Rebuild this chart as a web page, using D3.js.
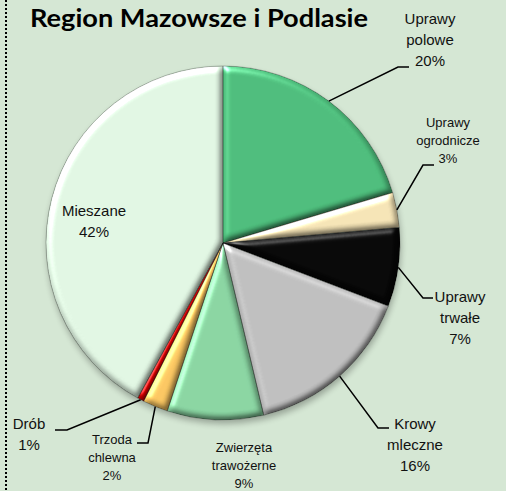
<!DOCTYPE html>
<html>
<head>
<meta charset="utf-8">
<script src="https://cdn.jsdelivr.net/npm/d3@7"></script>
<style>
  html, body { margin: 0; padding: 0; background: #d5e7d4; }
  #chart { width: 506px; height: 491px; }
  .lbl { font-family: "Liberation Sans", Arial, sans-serif; fill: #111; }
  .title { font-family: Lato, "Open Sans", sans-serif; font-weight: bold; fill: #000; }
</style>
</head>
<body>
<div id="chart"></div>
<script>
// chart data
var categories = ["Uprawy polowe", "Uprawy ogrodnicze", "Uprawy trwałe", "Krowy mleczne",
                  "Zwierzęta trawożerne", "Trzoda chlewna", "Drób", "Mieszane"];
var labelLines = [["Uprawy", "polowe"], ["Uprawy", "ogrodnicze"], ["Uprawy", "trwałe"],
                  ["Krowy", "mleczne"], ["Zwierzęta", "trawożerne"], ["Trzoda", "chlewna"],
                  ["Drób"], ["Mieszane"]];
var values = [20.4, 3.2, 7.2, 15.5, 8.8, 2.3, 0.6, 42.0];
var sliceColors = ["#4cbb7a", "#f3e2b4", "#060606", "#bdbdbd", "#88d3a0", "#f9c560", "#c00000", "#dff4e1"];

var width = 506, height = 491;
var cx = 223, cy = 243, radius = 177;

// label placement: text centre, first baseline, font size, line step, leader elbow/end
var labelLayout = [
    {x: 430, y: 24,  size: 15, step: 21, elbow: [398, 67],  end: [409, 67]},
    {x: 448, y: 127, size: 13, step: 18, elbow: [423, 165], end: [434, 165]},
    {x: 460, y: 302, size: 15, step: 21, elbow: [423, 298], end: [433, 298]},
    {x: 415, y: 429, size: 15, step: 21, elbow: [378, 428], end: [389, 428]},
    {x: 244, y: 452, size: 13, step: 18, elbow: null,       end: null},
    {x: 112, y: 444, size: 13, step: 18, elbow: [148, 443], end: [137, 443]},
    {x: 29,  y: 429, size: 15, step: 21, elbow: [67, 430],  end: [55, 430]},
    {x: 94,  y: 216, size: 15, step: 21, elbow: null,       end: null}
];

var svg = d3.select("#chart").append("svg")
    .attr("width", width)
    .attr("height", height);

var defs = svg.append("defs");

// soft shadow under the pie
var shadow = defs.append("filter").attr("id", "shadow")
    .attr("x", "-20%").attr("y", "-20%").attr("width", "140%").attr("height", "140%");
shadow.append("feGaussianBlur").attr("stdDeviation", 3);

// bevel look on each slice
var bevel = defs.append("filter").attr("id", "bevel")
    .attr("color-interpolation-filters", "sRGB")
    .attr("x", "-5%").attr("y", "-5%").attr("width", "110%").attr("height", "110%");
bevel.append("feGaussianBlur").attr("in", "SourceAlpha").attr("stdDeviation", 3).attr("result", "blur");
bevel.append("feDiffuseLighting").attr("in", "blur").attr("surfaceScale", 3)
    .attr("diffuseConstant", 1).attr("lighting-color", "#fff").attr("result", "diff")
  .append("feDistantLight").attr("azimuth", 235).attr("elevation", 60);
bevel.append("feComposite").attr("in", "SourceGraphic").attr("in2", "diff")
    .attr("operator", "arithmetic").attr("k1", 1.15).attr("k2", 0).attr("k3", 0).attr("k4", 0)
    .attr("result", "lit");
bevel.append("feSpecularLighting").attr("in", "blur").attr("surfaceScale", 3)
    .attr("specularConstant", 0.9).attr("specularExponent", 30)
    .attr("lighting-color", "#fff").attr("result", "spec")
  .append("feDistantLight").attr("azimuth", 235).attr("elevation", 35);
bevel.append("feComposite").attr("in", "spec").attr("in2", "SourceAlpha")
    .attr("operator", "in").attr("result", "specIn");
bevel.append("feComposite").attr("in", "lit").attr("in2", "specIn")
    .attr("operator", "arithmetic").attr("k1", 0).attr("k2", 1).attr("k3", 0.7).attr("k4", 0)
    .attr("result", "both");
bevel.append("feComposite").attr("in", "both").attr("in2", "SourceAlpha").attr("operator", "in");

// dotted left border
svg.append("line")
    .attr("x1", 6).attr("x2", 6)
    .attr("y1", 0).attr("y2", height)
    .attr("stroke", "#000")
    .attr("stroke-width", 2)
    .attr("stroke-dasharray", "2,2");

// title
svg.append("text")
    .attr("class", "title")
    .attr("x", 30)
    .attr("y", 27)
    .attr("textLength", 338)
    .attr("lengthAdjust", "spacingAndGlyphs")
    .style("font-size", "24px")
    .text("Region Mazowsze i Podlasie");

var pie = d3.pie().sort(null).value(function(d) { return d; });
var arcs = pie(values);
var arc = d3.arc().innerRadius(0).outerRadius(radius);

var pieG = svg.append("g").attr("transform", "translate(" + cx + "," + cy + ")");

pieG.append("circle")
    .attr("cx", 1).attr("cy", 4)
    .attr("r", radius)
    .attr("fill", "#000")
    .attr("opacity", 0.28)
    .attr("filter", "url(#shadow)");

pieG.selectAll(".slice")
    .data(arcs)
    .enter().append("path")
    .attr("class", "slice")
    .attr("d", arc)
    .attr("fill", function(d, i) { return sliceColors[i]; })
    .attr("filter", "url(#bevel)");

pieG.selectAll(".edge")
    .data(arcs)
    .enter().append("path")
    .attr("class", "edge")
    .attr("d", arc)
    .attr("fill", "none")
    .attr("stroke", "rgba(0,0,0,0.35)")
    .attr("stroke-width", 0.7);

// leader lines, starting at the slice's mid angle on the rim
var leaders = svg.append("g");
arcs.forEach(function(d, i) {
    var L = labelLayout[i];
    if (!L.elbow) return;
    var mid = (d.startAngle + d.endAngle) / 2;
    var sx = cx + radius * Math.sin(mid), sy = cy - radius * Math.cos(mid);
    leaders.append("polyline")
        .attr("points", [[sx, sy], L.elbow, L.end].map(function(p) { return p.join(","); }).join(" "))
        .attr("fill", "none")
        .attr("stroke", "#000")
        .attr("stroke-width", 1.5);
});

// labels
var labels = svg.selectAll(".lbl")
    .data(arcs)
    .enter().append("text")
    .attr("class", "lbl")
    .attr("text-anchor", "middle")
    .style("font-size", function(d, i) { return labelLayout[i].size + "px"; });

labels.each(function(d, i) {
    var L = labelLayout[i];
    var lines = labelLines[i].concat([Math.round(d.data) + "%"]);
    d3.select(this).selectAll("tspan")
        .data(lines)
        .enter().append("tspan")
        .attr("x", L.x)
        .attr("y", function(t, j) { return L.y + j * L.step; })
        .text(function(t) { return t; });
});
</script>
</body>
</html>
